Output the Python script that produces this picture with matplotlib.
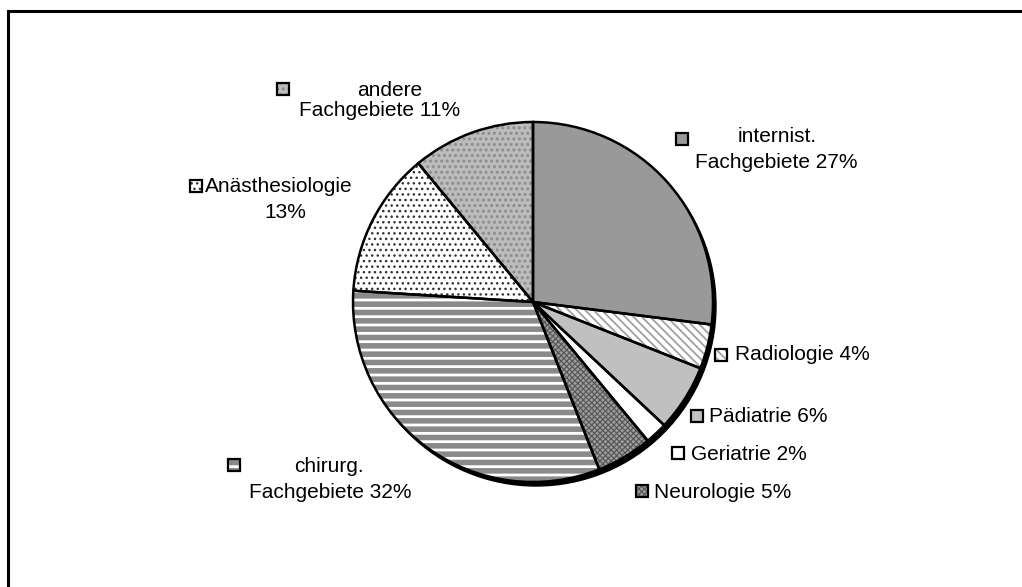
import matplotlib
matplotlib.use("Agg")
import matplotlib.pyplot as plt
import matplotlib.patches as mpatches

plt.rcParams["font.family"] = ["Liberation Sans", "DejaVu Sans"]

# ── Data ─────────────────────────────────────────────────────────────────────
fach   = ["internist. Fachgebiete", "Radiologie", "Pädiatrie", "Geriatrie",
          "Neurologie", "chirurg. Fachgebiete", "Anästhesiologie",
          "andere Fachgebiete"]
anteil = [27, 4, 6, 2, 5, 32, 13, 11]

# label lines (text, x, y, ha) in pixel coords of the 1022x587 picture
label_lines = [
    [("internist.", 777, 137, "center"), ("Fachgebiete 27%", 776, 163, "center")],
    [("Radiologie 4%", 735, 355, "left")],
    [("Pädiatrie 6%", 709, 416, "left")],
    [("Geriatrie 2%", 691, 454, "left")],
    [("Neurologie 5%", 654, 492, "left")],
    [("chirurg.", 329, 466, "center"), ("Fachgebiete 32%", 330, 492, "center")],
    [("Anästhesiologie", 205, 186, "left"), ("13%", 285, 213, "center")],
    [("andere", 390, 90, "center"), ("Fachgebiete 11%", 380, 110, "center")],
]
key_pos = [(682, 139), (721, 355), (697, 416), (678, 453),
           (642, 491), (234, 465), (196, 186), (283, 89)]

# face, hatch, hatch colour, hatch linewidth
styles = [
    ("#999999", None,        None,      1.0),
    ("white",   "\\\\\\\\",  "#a0a0a0", 1.3),
    ("#c0c0c0", None,        None,      1.0),
    ("white",   None,        None,      1.0),
    ("#9c9c9c", "xxxxxx",    "#555555", 0.8),
    ("white",   "--",        "#8a8a8a", 4.0),
    ("white",   "...",       "#333333", 1.0),
    ("#bcbcbc", "...",       "#8c8c8c", 1.4),
]

H = 587
CX, CY, R = 533, H - 302, 180

fig = plt.figure(figsize=(10.22, 5.87), dpi=100)
ax = fig.add_axes([0, 0, 1, 1])


def style_patch(p, st):
    face, hatch, hcol, hlw = st
    p.set_facecolor(face)
    if hatch:
        p.set_hatch(hatch)
        p.set_edgecolor(hcol)
        if hasattr(p, "set_hatch_linewidth"):
            p.set_hatch_linewidth(hlw)
    else:
        p.set_edgecolor(face)
    p.set_linewidth(0)


# shadow
ax.add_patch(mpatches.Circle((CX + 3, CY - 4), R, color="black", zorder=0))

wedges, _ = ax.pie(anteil, startangle=90, counterclock=False,
                   center=(CX, CY), radius=R)
for w, st in zip(wedges, styles):
    style_patch(w, st)

ax.pie(anteil, startangle=90, counterclock=False, center=(CX, CY), radius=R,
       wedgeprops=dict(fill=False, edgecolor="black", linewidth=1.8))

# labels with legend keys
for lines, (kx, ky), st in zip(label_lines, key_pos, styles):
    box = mpatches.Rectangle((kx - 6, H - ky - 6), 12, 12, zorder=3)
    style_patch(box, st)
    ax.add_patch(box)
    ax.add_patch(mpatches.Rectangle((kx - 6, H - ky - 6), 12, 12, fill=False,
                                    edgecolor="black", linewidth=1.6, zorder=4))
    for txt, x, y, ha in lines:
        ax.text(x, H - y, txt, ha=ha, va="center", fontsize=15, color="black")

# chart frame
ax.plot([8, 8, 1030], [-5, H - 11, H - 11], color="black", lw=2.2,
        solid_joinstyle="miter")

ax.set_xlim(0, 1022)
ax.set_ylim(0, H)
ax.set_aspect("auto")
ax.axis("off")
fig.savefig("out.png", dpi=100)
